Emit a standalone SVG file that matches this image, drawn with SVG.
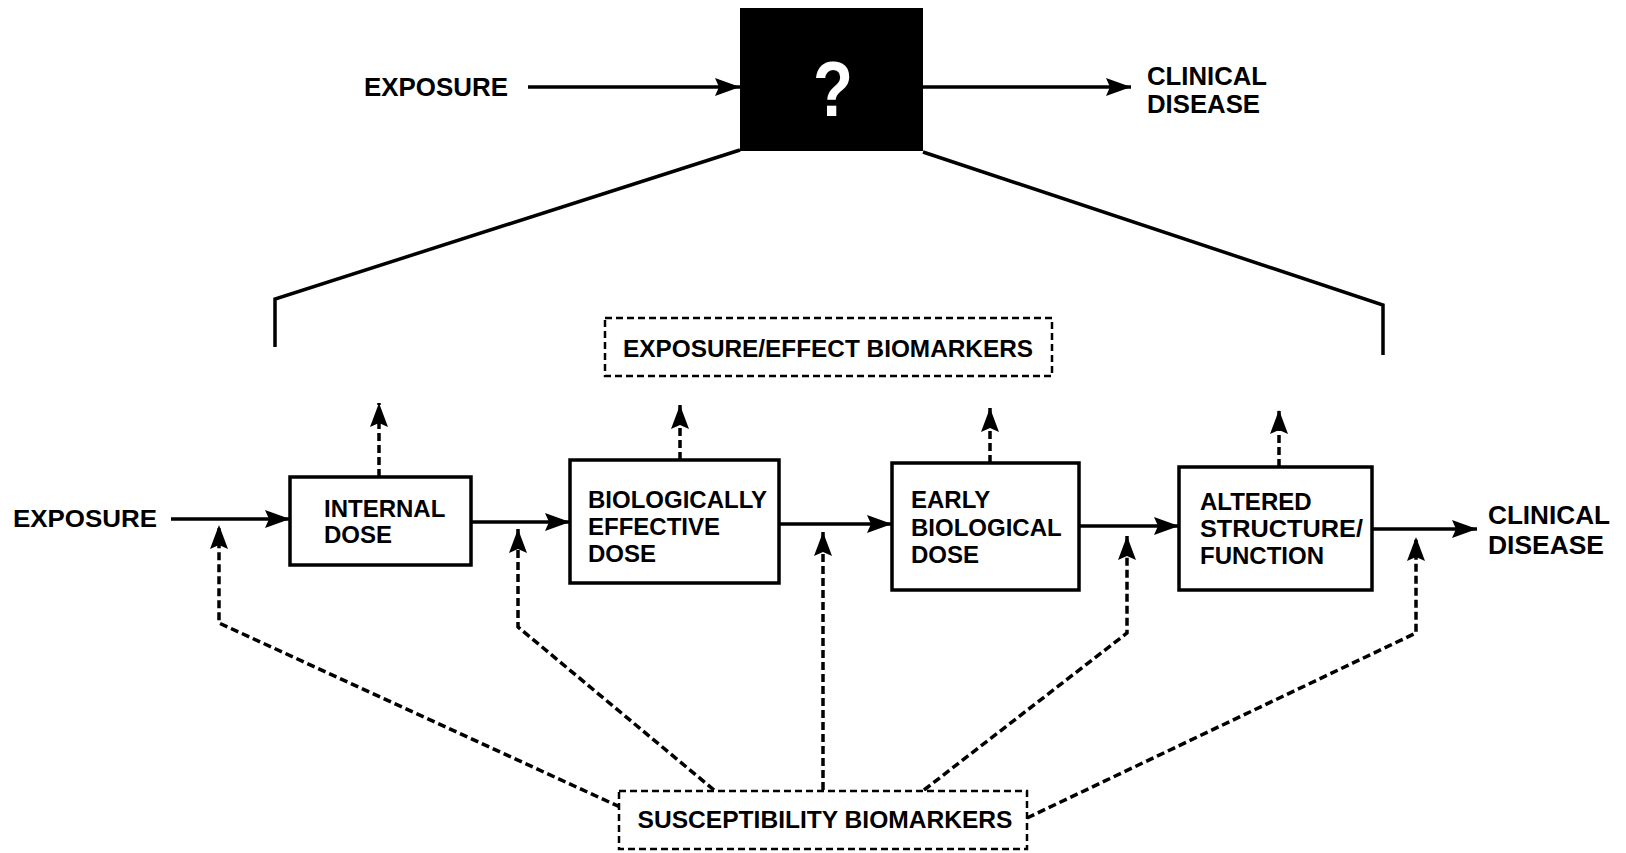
<svg xmlns="http://www.w3.org/2000/svg" width="1626" height="853" viewBox="0 0 1626 853">
<defs>
<style>
text{font-family:"Liberation Sans",Arial,sans-serif;font-weight:bold;fill:#000}
.t24{font-size:24px}
.t26{font-size:26px}
.box{fill:#fff;stroke:#000;stroke-width:3.5}
.dbox{fill:#fff;stroke:#000;stroke-width:2.5;stroke-dasharray:7 4}
.flow{fill:none;stroke:#000;stroke-width:3.5}
.dash{fill:none;stroke:#000;stroke-width:3.5;stroke-dasharray:8 4}
.solid{fill:none;stroke:#000;stroke-width:3.5}
</style>
<marker id="ah" markerUnits="userSpaceOnUse" markerWidth="28" markerHeight="22" refX="25" refY="11" orient="auto">
<path d="M0,2 L25,11 L0,20 L4,11 Z" fill="#000"/>
</marker>
<marker id="ahd" markerUnits="userSpaceOnUse" markerWidth="28" markerHeight="22" refX="24" refY="11" orient="auto">
<path d="M0,2 L24,11 L0,20 L4,11 Z" fill="#000"/>
</marker>
</defs>
<rect width="1626" height="853" fill="#fff"/>

<g id="connectors">
<line class="flow" x1="528" y1="87" x2="740" y2="87" marker-end="url(#ah)"/>
<line class="flow" x1="923" y1="87" x2="1131" y2="87" marker-end="url(#ah)"/>
<polyline class="solid" points="275,347 275,299 740,150"/>
<polyline class="solid" points="1383,355 1383,305 923,152"/>
<line class="flow" x1="171" y1="519" x2="290" y2="519" marker-end="url(#ah)"/>
<line class="flow" x1="471" y1="522" x2="570" y2="522" marker-end="url(#ah)"/>
<line class="flow" x1="779" y1="524" x2="892" y2="524" marker-end="url(#ah)"/>
<line class="flow" x1="1079" y1="526" x2="1179" y2="526" marker-end="url(#ah)"/>
<line class="flow" x1="1372" y1="529" x2="1477" y2="529" stroke-width="5" marker-end="url(#ah)"/>
<line class="dash" x1="379" y1="477" x2="379" y2="403" marker-end="url(#ahd)"/>
<line class="dash" x1="680" y1="460" x2="680" y2="405" marker-end="url(#ahd)"/>
<line class="dash" x1="990" y1="463" x2="990" y2="408" marker-end="url(#ahd)"/>
<line class="dash" x1="1279" y1="467" x2="1279" y2="410" marker-end="url(#ahd)"/>
<polyline class="dash" points="620,807 219,623 219,525" marker-end="url(#ahd)"/>
<polyline class="dash" points="714,790 518,627 518,529" marker-end="url(#ahd)"/>
<polyline class="dash" points="823,790 823,532" marker-end="url(#ahd)"/>
<polyline class="dash" points="924,790 1127,633 1127,536" marker-end="url(#ahd)"/>
<polyline class="dash" points="1027,818 1416,633 1416,537" marker-end="url(#ahd)"/>
</g>

<g id="top-exposure"><text class="t26" x="364" y="96" textLength="144" lengthAdjust="spacingAndGlyphs">EXPOSURE</text></g>
<g id="black-box">
<rect x="740" y="8" width="183" height="143" fill="#000"/>
<text x="833" y="116" text-anchor="middle" textLength="40" lengthAdjust="spacingAndGlyphs" style="font-size:78px;fill:#fff">?</text>
</g>
<g id="top-clinical">
<text class="t26" x="1147" y="85" textLength="120" lengthAdjust="spacingAndGlyphs">CLINICAL</text>
<text class="t26" x="1147" y="113" textLength="113" lengthAdjust="spacingAndGlyphs">DISEASE</text>
</g>

<g id="effect-biomarkers">
<rect class="dbox" x="605" y="318" width="447" height="58"/>
<text class="t24" x="828" y="357" text-anchor="middle" textLength="410" lengthAdjust="spacingAndGlyphs">EXPOSURE/EFFECT BIOMARKERS</text>
</g>

<g id="exposure"><text class="t24" x="13" y="527" textLength="144" lengthAdjust="spacingAndGlyphs">EXPOSURE</text></g>

<g id="internal-dose">
<rect class="box" x="290" y="477" width="181" height="88"/>
<text class="t24" x="324" y="517">INTERNAL</text>
<text class="t24" x="324" y="543">DOSE</text>
</g>

<g id="biologically-effective-dose">
<rect class="box" x="570" y="460" width="209" height="123"/>
<text class="t24" x="588" y="508">BIOLOGICALLY</text>
<text class="t24" x="588" y="535">EFFECTIVE</text>
<text class="t24" x="588" y="562">DOSE</text>
</g>

<g id="early-biological-dose">
<rect class="box" x="892" y="463" width="187" height="127"/>
<text class="t24" x="911" y="508">EARLY</text>
<text class="t24" x="911" y="536">BIOLOGICAL</text>
<text class="t24" x="911" y="563">DOSE</text>
</g>

<g id="altered-structure-function">
<rect class="box" x="1179" y="467" width="193" height="123"/>
<text class="t24" x="1200" y="510">ALTERED</text>
<text class="t24" x="1200" y="537" textLength="163" lengthAdjust="spacingAndGlyphs">STRUCTURE/</text>
<text class="t24" x="1200" y="564">FUNCTION</text>
</g>

<g id="clinical-disease">
<text class="t26" x="1488" y="524" textLength="122" lengthAdjust="spacingAndGlyphs">CLINICAL</text>
<text class="t26" x="1488" y="554" textLength="116" lengthAdjust="spacingAndGlyphs">DISEASE</text>
</g>

<g id="susceptibility-biomarkers">
<rect class="dbox" x="619" y="791" width="408" height="58"/>
<text class="t24" x="825" y="828" text-anchor="middle" textLength="375" lengthAdjust="spacingAndGlyphs">SUSCEPTIBILITY BIOMARKERS</text>
</g>
</svg>
